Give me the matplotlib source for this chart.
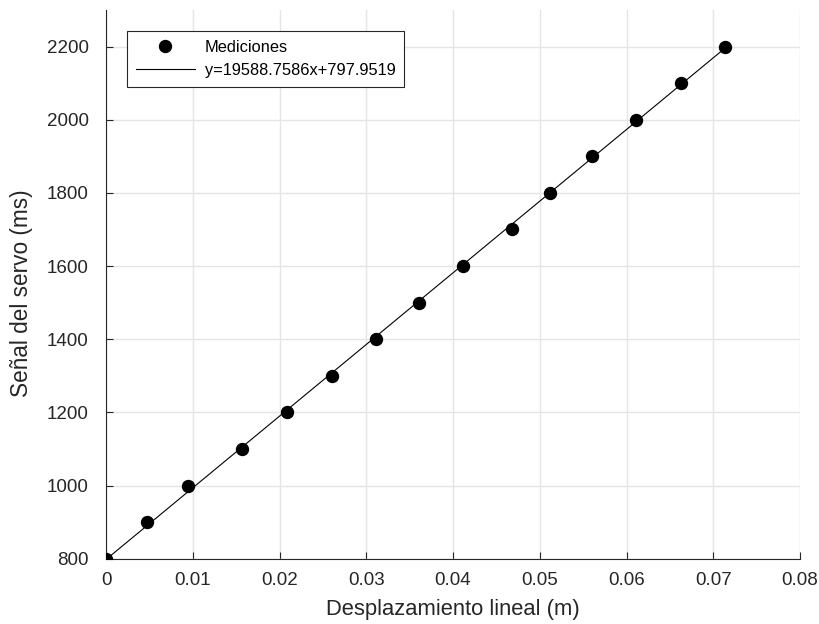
import numpy as np
import matplotlib
matplotlib.use("Agg")
import matplotlib.pyplot as plt

plt.rcParams['font.family'] = ['Liberation Sans', 'DejaVu Sans']

# mediciones: desplazamiento (m) vs señal del servo (ms)
desplazamiento = [0.0000, 0.00468, 0.00946, 0.01569, 0.02092, 0.02608, 0.03107, 0.03607,
                  0.04115, 0.04676, 0.05123, 0.05600, 0.06115, 0.06630, 0.07131]
senal = [800, 900, 1000, 1100, 1200, 1300, 1400, 1500,
         1600, 1700, 1800, 1900, 2000, 2100, 2200]

# ajuste lineal
pendiente = 19588.7586
ordenada = 797.9519

x_tick_vals = [0, 0.01, 0.02, 0.03, 0.04, 0.05, 0.06, 0.07, 0.08]
x_tick_labels = ["0", "0.01", "0.02", "0.03", "0.04", "0.05", "0.06", "0.07", "0.08"]
y_tick_vals = [800, 1000, 1200, 1400, 1600, 1800, 2000, 2200]

fig = plt.figure(figsize=(8.2, 6.24), dpi=100)
ax = fig.add_axes([0.1293, 0.1046, 0.8463, 0.8794])

x_fit = np.array([min(desplazamiento), max(desplazamiento)])
ax.plot(desplazamiento, senal, 'o', color='black', markersize=8.6, zorder=3,
        label='Mediciones')
ax.plot(x_fit, pendiente * x_fit + ordenada, '-', color='black', linewidth=0.8,
        zorder=2, label='y=19588.7586x+797.9519')

ax.set_xlim(0, 0.08)
ax.set_ylim(800, 2300)
ax.set_xticks(x_tick_vals)
ax.set_xticklabels(x_tick_labels)
ax.set_yticks(y_tick_vals)

ax.grid(True, color='#e5e5e5', linewidth=1.0)
ax.set_axisbelow(True)
for side in ['top', 'right']:
    ax.spines[side].set_visible(False)
for side in ['left', 'bottom']:
    ax.spines[side].set_color('#262626')
    ax.spines[side].set_linewidth(0.8)
ax.tick_params(direction='in', length=5, width=0.8, colors='#262626', labelsize=13.5)
ax.tick_params(axis='x', pad=9.5)
ax.tick_params(axis='y', pad=12.5)

ax.set_xlabel('Desplazamiento lineal (m)', fontsize=15.8, color='#262626', labelpad=7)
ax.set_ylabel('Señal del servo (ms)', fontsize=16.3, color='#262626')
ax.yaxis.set_label_coords(-0.105, 0.483)

leg = ax.legend(loc='upper left', bbox_to_anchor=(0.030, 0.962), fontsize=11.8,
                fancybox=False, framealpha=1, edgecolor='#262626',
                borderpad=0.55, handlelength=3.6, labelspacing=0.5,
                handletextpad=0.6, borderaxespad=0)
leg.get_frame().set_linewidth(0.8)

fig.savefig('out.png', dpi=100)
